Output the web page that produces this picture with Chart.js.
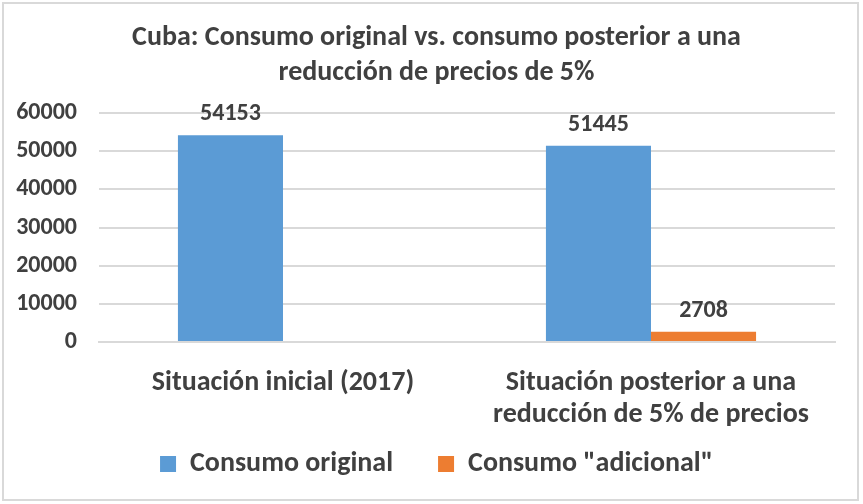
<!DOCTYPE html>
<html>
<head>
<meta charset="utf-8">
<script src="https://cdn.jsdelivr.net/npm/chart.js@4.4.0/dist/chart.umd.min.js"></script>
<style>
  html, body { margin: 0; padding: 0; background: #ffffff; }
  #wrap { position: relative; width: 863px; height: 504px; }
  #frame { position: absolute; left: 2px; top: 2px; width: 853px; height: 495px; border: 2px solid #d9d9d9; pointer-events: none; }
  canvas { position: absolute; left: 0; top: 0; }
</style>
</head>
<body>
<div id="wrap">
  <canvas id="c" width="863" height="504"></canvas>
  <div id="frame"></div>
</div>
<script>
const titleLines = ["Cuba: Consumo original vs. consumo posterior a una", "reducción de precios de 5%"];
const categories = [["Situación inicial (2017)"], ["Situación posterior a una", "reducción de 5% de precios"]];
const seriesNames = ["Consumo original", "Consumo \"adicional\""];
const consumoOriginal = [54153, 51445];
const consumoAdicional = [null, 2708];
const yMin = 0, yMax = 60000, yStep = 10000;

const FONT = "Carlito, 'Liberation Sans Narrow', 'Arial Narrow', 'Open Sans', sans-serif";
const TEXT = "#404040";

const valueLabels = {
  id: "valueLabels",
  afterDatasetsDraw(chart) {
    const ctx = chart.ctx;
    ctx.save();
    ctx.font = "bold 24px " + FONT;
    ctx.fillStyle = TEXT;
    ctx.textAlign = "center";
    ctx.textBaseline = "middle";
    chart.data.datasets.forEach((ds, di) => {
      const meta = chart.getDatasetMeta(di);
      meta.data.forEach((bar, i) => {
        const v = ds.data[i];
        if (v === null || v === undefined) return;
        ctx.fillText(String(v), bar.x, bar.y - 21);
      });
    });
    ctx.restore();
  }
};

function noLabelClip(scale) { scale._computeLabelArea = () => undefined; }

new Chart(document.getElementById("c"), {
  type: "bar",
  data: {
    labels: categories,
    datasets: [
      { label: seriesNames[0], data: consumoOriginal, backgroundColor: "#5B9BD5", borderWidth: 0 },
      { label: seriesNames[1], data: consumoAdicional, backgroundColor: "#ED7D31", borderWidth: 0 }
    ]
  },
  options: {
    responsive: false,
    animation: false,
    devicePixelRatio: 1,
    categoryPercentage: 0.571,
    barPercentage: 1.0,
    layout: { padding: { left: 38, right: 28, top: 0, bottom: 16 } },
    plugins: {
      tooltip: { enabled: false },
      title: {
        display: true,
        text: titleLines,
        color: TEXT,
        font: { family: FONT, size: 28, weight: "bold", lineHeight: 35 / 28 },
        padding: { top: 20, bottom: 23 }
      },
      legend: {
        display: true,
        position: "bottom",
        labels: {
          color: TEXT,
          font: { family: FONT, size: 28, weight: "bold" },
          boxWidth: 16,
          boxHeight: 16,
          padding: 45
        }
      }
    },
    scales: {
      x: {
        grid: { display: false, drawTicks: false },
        border: { display: true, color: "#d9d9d9", width: 2 },
        ticks: {
          color: TEXT,
          padding: 25,
          maxRotation: 0,
          autoSkip: false,
          font: { family: FONT, size: 28, weight: "bold", lineHeight: 32 / 28 }
        },
        afterFit(scale) { scale.height = 63; noLabelClip(scale); }
      },
      y: {
        min: yMin,
        max: yMax,
        grid: { color: "#d9d9d9", lineWidth: 2, drawTicks: false },
        border: { display: false },
        ticks: {
          stepSize: yStep,
          color: TEXT,
          padding: 22,
          font: { family: FONT, size: 24, weight: "bold" },
          callback: (v) => String(v)
        },
        afterFit(scale) { scale.width = 61; noLabelClip(scale); }
      }
    }
  },
  plugins: [valueLabels]
});
</script>
</body>
</html>
